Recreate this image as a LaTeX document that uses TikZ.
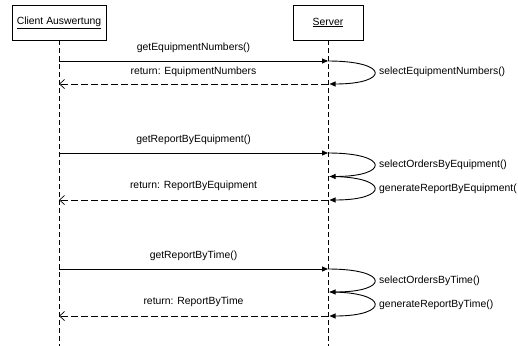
\documentclass[tikz,border=0pt]{standalone}
\usepackage{fontspec}
\setmainfont{Liberation Sans}
\usetikzlibrary{arrows.meta}
\begin{document}
\begin{tikzpicture}[x=1pt,y=-1pt,
  font=\fontsize{10.4}{12}\selectfont,
  obj/.style={draw, line width=0.8pt, minimum height=35pt, inner sep=0pt},
  life/.style={line width=0.7pt, dash pattern=on 5pt off 3pt},
  call/.style={line width=0.9pt, -{Triangle[length=6pt,width=5pt]}},
  ret/.style={line width=0.7pt, dash pattern=on 7pt off 3pt, -{Straight Barb[length=5pt,width=9pt]}},
  selfcall/.style={line width=0.9pt, -{Triangle[length=6pt,width=5pt]}},
  lbl/.style={inner sep=0pt},
  slbl/.style={inner sep=0pt, anchor=west},
]
\useasboundingbox (0,0) rectangle (518,345);

% objects and lifelines
\node[obj, minimum width=94pt] (client) at (59,22.5) {\underline{Client Auswertung}};
\node[obj, minimum width=70pt] (server) at (328,22.5) {\underline{Server}};
\coordinate (cend) at (client.south |- 0,346);
\coordinate (send) at (server.south |- 0,346);
\draw[life] (client.south) -- (cend);
\draw[life] (server.south) -- (send);

% anchor points on the lifelines
\foreach \n/\y in {1/61, 2/84, 3/153, 4/176.5, 5/200, 6/269, 7/292, 8/316} {
  \coordinate (c\n) at (client.south |- 0,\y);
  \coordinate (s\n) at (server.south |- 0,\y);
  \coordinate (t\n) at ([xshift=1.5pt]server.south |- 0,\y);
}

% getEquipmentNumbers
\draw[call] (c1) -- node[lbl, yshift=13pt] {getEquipmentNumbers()} (s1);
\draw[selfcall] (s1) .. controls +(62,0) and +(60,0) .. (t2);
\node[slbl] (l1) at (379,72) {selectEquipmentNumbers()};
\draw[ret] (s2) -- node[lbl, yshift=12.5pt] {return: EquipmentNumbers} (c2);

% getReportByEquipment
\draw[call] (c3) -- node[lbl, yshift=13pt] {getReportByEquipment()} (s3);
\draw[selfcall] (s3) .. controls +(62,0) and +(60,0) .. (t4);
\node[slbl] (l2) at (379,165) {selectOrdersByEquipment()};
\draw[selfcall] (t4) .. controls +(60,0) and +(60,0) .. (t5);
\node[slbl] (l3) at (379,188.5) {generateReportByEquipment(};
\draw[ret] (s5) -- node[lbl, yshift=14pt] {return: ReportByEquipment} (c5);

% getReportByTime
\draw[call] (c6) -- node[lbl, yshift=13pt] {getReportByTime()} (s6);
\draw[selfcall] (s6) .. controls +(62,0) and +(60,0) .. (t7);
\node[slbl] (l4) at (379,281) {selectOrdersByTime()};
\draw[selfcall] (t7) .. controls +(60,0) and +(60,0) .. (t8);
\node[slbl] (l5) at (379,304.5) {generateReportByTime()};
\draw[ret] (s8) -- node[lbl, yshift=14pt] {return: ReportByTime} (c8);
\end{tikzpicture}
\end{document}
